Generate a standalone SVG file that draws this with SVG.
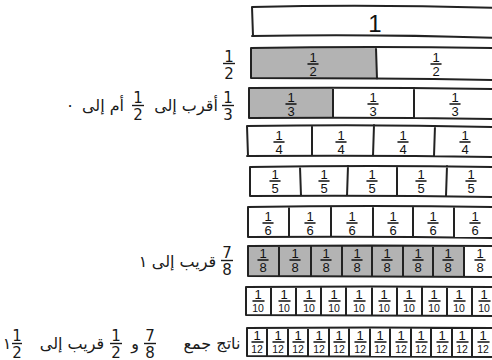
<svg xmlns="http://www.w3.org/2000/svg" width="492" height="360" viewBox="0 0 492 360">
<style>
.ln{fill:none;stroke:#222;stroke-width:2;stroke-linecap:round;stroke-linejoin:round}
.sh{fill:#b3b3b3;stroke:none}
.n{font-family:"Liberation Sans",sans-serif;font-size:13px;text-anchor:middle;fill:#111}
.s{font-size:10.5px}
.fb{stroke:#111;stroke-width:1.5;stroke-linecap:round}
.ar{font-family:"DejaVu Sans",sans-serif;font-size:16px;fill:#1a1a1a;text-anchor:middle}
.fr{font-family:"DejaVu Sans",sans-serif;font-size:15px;fill:#1a1a1a;text-anchor:middle}
.fb2{stroke:#1a1a1a;stroke-width:1.4}
</style>
<rect width="492" height="360" fill="#fff"/>

<g id="row1">
<path class="ln" d="M252,7 Q370,4 497,8 M252,36 Q380,34 497,38 M252,7 L253,36"/>
<text class="n" x="375" y="32" style="font-size:24px">1</text>
</g>

<g id="row2">
<rect class="sh" x="251" y="48" width="125" height="30"/>
<path class="ln" d="M251,48 Q370,46 497,48 M251,78 Q380,78 497,80 M251,48 L251,78 M376,48 L377,79"/>
<text class="n" x="313" y="62">1</text><line class="fb" x1="308" y1="64" x2="318" y2="64"/><text class="n" x="313" y="76">2</text>
<text class="n" x="436" y="62">1</text><line class="fb" x1="431" y1="64" x2="441" y2="64"/><text class="n" x="436" y="76">2</text>
</g>

<g id="row3">
<rect class="sh" x="249" y="88" width="84" height="30"/>
<path class="ln" d="M249,88 Q370,87 497,89 M249,118 Q380,117 497,119 M249,88 L249,118 M333,88 L333,118 M414,88 L414,118"/>
<text class="n" x="291" y="102">1</text><line class="fb" x1="286" y1="104" x2="296" y2="104"/><text class="n" x="291" y="116">3</text>
<text class="n" x="373" y="102">1</text><line class="fb" x1="368" y1="104" x2="378" y2="104"/><text class="n" x="373" y="116">3</text>
<text class="n" x="455" y="102">1</text><line class="fb" x1="450" y1="104" x2="460" y2="104"/><text class="n" x="455" y="116">3</text>
</g>

<g id="row4">
<path class="ln" d="M247,126 Q370,124 497,127 M247,156 Q380,155 497,157 M247,126 L248,156 M312,126 L312,156 M374,125 L373,156 M435,126 L434,156"/>
<text class="n" x="279" y="140">1</text><line class="fb" x1="274" y1="142" x2="284" y2="142"/><text class="n" x="279" y="154">4</text>
<text class="n" x="341" y="140">1</text><line class="fb" x1="336" y1="142" x2="346" y2="142"/><text class="n" x="341" y="154">4</text>
<text class="n" x="403" y="140">1</text><line class="fb" x1="398" y1="142" x2="408" y2="142"/><text class="n" x="403" y="154">4</text>
<text class="n" x="465" y="140">1</text><line class="fb" x1="460" y1="142" x2="470" y2="142"/><text class="n" x="465" y="154">4</text>
</g>

<g id="row5">
<path class="ln" d="M250,167 Q370,165 497,167 M250,196 Q380,195 497,197 M250,167 L250,196 M300,167 L301,196 M348,166 L347,196 M397,167 L397,196 M447,166 L446,196"/>
<text class="n" x="275" y="179">1</text><line class="fb" x1="270" y1="181" x2="280" y2="181"/><text class="n" x="275" y="193">5</text>
<text class="n" x="324" y="179">1</text><line class="fb" x1="319" y1="181" x2="329" y2="181"/><text class="n" x="324" y="193">5</text>
<text class="n" x="372" y="179">1</text><line class="fb" x1="367" y1="181" x2="377" y2="181"/><text class="n" x="372" y="193">5</text>
<text class="n" x="421" y="179">1</text><line class="fb" x1="416" y1="181" x2="426" y2="181"/><text class="n" x="421" y="193">5</text>
<text class="n" x="471" y="179">1</text><line class="fb" x1="466" y1="181" x2="476" y2="181"/><text class="n" x="471" y="193">5</text>
</g>

<g id="row6">
<path class="ln" d="M248,207 Q370,205 497,207 M248,237 Q380,236 497,238 M248,207 L248,237 M289,207 L289,237 M331,207 L331,237 M373,206 L373,237 M413,207 L413,237 M454,207 L454,237"/>
<text class="n" x="268" y="221">1</text><line class="fb" x1="263" y1="223" x2="273" y2="223"/><text class="n" x="268" y="235">6</text>
<text class="n" x="310" y="221">1</text><line class="fb" x1="305" y1="223" x2="315" y2="223"/><text class="n" x="310" y="235">6</text>
<text class="n" x="352" y="221">1</text><line class="fb" x1="347" y1="223" x2="357" y2="223"/><text class="n" x="352" y="235">6</text>
<text class="n" x="393" y="221">1</text><line class="fb" x1="388" y1="223" x2="398" y2="223"/><text class="n" x="393" y="235">6</text>
<text class="n" x="433" y="221">1</text><line class="fb" x1="428" y1="223" x2="438" y2="223"/><text class="n" x="433" y="235">6</text>
<text class="n" x="475" y="221">1</text><line class="fb" x1="470" y1="223" x2="480" y2="223"/><text class="n" x="475" y="235">6</text>
</g>

<g id="row7">
<rect class="sh" x="248" y="246" width="216" height="30"/>
<path class="ln" d="M248,246 Q370,245 497,246 M248,276 Q380,276 497,277 M248,246 L248,276 M279,246 L279,276 M311,246 L311,276 M342,246 L342,276 M372,246 L372,276 M403,246 L403,276 M433,246 L433,276 M464,246 L464,276"/>
<text class="n" x="263" y="258">1</text><line class="fb" x1="258" y1="260" x2="268" y2="260"/><text class="n" x="263" y="272">8</text>
<text class="n" x="295" y="258">1</text><line class="fb" x1="290" y1="260" x2="300" y2="260"/><text class="n" x="295" y="272">8</text>
<text class="n" x="326" y="258">1</text><line class="fb" x1="321" y1="260" x2="331" y2="260"/><text class="n" x="326" y="272">8</text>
<text class="n" x="357" y="258">1</text><line class="fb" x1="352" y1="260" x2="362" y2="260"/><text class="n" x="357" y="272">8</text>
<text class="n" x="387" y="258">1</text><line class="fb" x1="382" y1="260" x2="392" y2="260"/><text class="n" x="387" y="272">8</text>
<text class="n" x="418" y="258">1</text><line class="fb" x1="413" y1="260" x2="423" y2="260"/><text class="n" x="418" y="272">8</text>
<text class="n" x="448" y="258">1</text><line class="fb" x1="443" y1="260" x2="453" y2="260"/><text class="n" x="448" y="272">8</text>
<text class="n" x="480" y="258">1</text><line class="fb" x1="475" y1="260" x2="485" y2="260"/><text class="n" x="480" y="272">8</text>
</g>

<g id="row8">
<path class="ln" d="M246,287 Q370,286 497,287 M246,315 Q380,315 497,316 M246,287 L246,315 M271,287 L271,315 M296,287 L296,315 M321,287 L321,315 M346,287 L346,315 M372,287 L372,315 M397,287 L397,315 M422,287 L422,315 M447,287 L447,315 M472,287 L472,315"/>
<text class="n" x="258" y="299">1</text><line class="fb" x1="253" y1="301" x2="264" y2="301"/><text class="n s" x="258" y="312">10</text>
<text class="n" x="284" y="299">1</text><line class="fb" x1="279" y1="301" x2="290" y2="301"/><text class="n s" x="284" y="312">10</text>
<text class="n" x="309" y="299">1</text><line class="fb" x1="304" y1="301" x2="315" y2="301"/><text class="n s" x="309" y="312">10</text>
<text class="n" x="334" y="299">1</text><line class="fb" x1="329" y1="301" x2="340" y2="301"/><text class="n s" x="334" y="312">10</text>
<text class="n" x="359" y="299">1</text><line class="fb" x1="354" y1="301" x2="365" y2="301"/><text class="n s" x="359" y="312">10</text>
<text class="n" x="384" y="299">1</text><line class="fb" x1="379" y1="301" x2="390" y2="301"/><text class="n s" x="384" y="312">10</text>
<text class="n" x="409" y="299">1</text><line class="fb" x1="404" y1="301" x2="415" y2="301"/><text class="n s" x="409" y="312">10</text>
<text class="n" x="434" y="299">1</text><line class="fb" x1="429" y1="301" x2="440" y2="301"/><text class="n s" x="434" y="312">10</text>
<text class="n" x="459" y="299">1</text><line class="fb" x1="454" y1="301" x2="465" y2="301"/><text class="n s" x="459" y="312">10</text>
<text class="n" x="484" y="299">1</text><line class="fb" x1="479" y1="301" x2="490" y2="301"/><text class="n s" x="484" y="312">10</text>
</g>

<g id="row9">
<path class="ln" d="M247,328 Q370,327 497,328 M247,356 Q380,356 497,357 M247,328 L247,356 M267,328 L267,356 M288,328 L288,356 M308,328 L308,356 M329,328 L329,356 M349,328 L349,356 M370,328 L370,356 M390,328 L390,356 M411,328 L411,356 M431,328 L431,356 M452,328 L452,356 M472,328 L472,356"/>
<text class="n" x="257" y="340">1</text><line class="fb" x1="252" y1="342" x2="263" y2="342"/><text class="n s" x="257" y="353">12</text>
<text class="n" x="278" y="340">1</text><line class="fb" x1="273" y1="342" x2="284" y2="342"/><text class="n s" x="278" y="353">12</text>
<text class="n" x="298" y="340">1</text><line class="fb" x1="293" y1="342" x2="304" y2="342"/><text class="n s" x="298" y="353">12</text>
<text class="n" x="319" y="340">1</text><line class="fb" x1="314" y1="342" x2="325" y2="342"/><text class="n s" x="319" y="353">12</text>
<text class="n" x="339" y="340">1</text><line class="fb" x1="334" y1="342" x2="345" y2="342"/><text class="n s" x="339" y="353">12</text>
<text class="n" x="360" y="340">1</text><line class="fb" x1="355" y1="342" x2="366" y2="342"/><text class="n s" x="360" y="353">12</text>
<text class="n" x="380" y="340">1</text><line class="fb" x1="375" y1="342" x2="386" y2="342"/><text class="n s" x="380" y="353">12</text>
<text class="n" x="401" y="340">1</text><line class="fb" x1="396" y1="342" x2="407" y2="342"/><text class="n s" x="401" y="353">12</text>
<text class="n" x="421" y="340">1</text><line class="fb" x1="416" y1="342" x2="427" y2="342"/><text class="n s" x="421" y="353">12</text>
<text class="n" x="442" y="340">1</text><line class="fb" x1="437" y1="342" x2="448" y2="342"/><text class="n s" x="442" y="353">12</text>
<text class="n" x="462" y="340">1</text><line class="fb" x1="457" y1="342" x2="468" y2="342"/><text class="n s" x="462" y="353">12</text>
<text class="n" x="483" y="340">1</text><line class="fb" x1="478" y1="342" x2="489" y2="342"/><text class="n s" x="483" y="353">12</text>
</g>

<g id="label-half">
<text class="fr" x="229" y="61.5">1</text><line class="fb2" x1="223" y1="63.5" x2="235" y2="63.5"/><text class="fr" x="229" y="78.5">2</text>
</g>

<g id="label-third">
<text class="fr" x="228" y="103">1</text><line class="fb2" x1="222" y1="105.5" x2="234" y2="105.5"/><text class="fr" x="228" y="120">3</text>
<text class="ar" x="186" y="111">أقرب إلى</text>
<text class="fr" x="138" y="103">1</text><line class="fb2" x1="132" y1="105.5" x2="144" y2="105.5"/><text class="fr" x="138" y="120">2</text>
<text class="ar" x="103" y="111">أم إلى</text>
<text class="ar" x="70" y="111">٠</text>
</g>

<g id="label-eighth">
<text class="fr" x="227" y="258">7</text><line class="fb2" x1="221" y1="260.5" x2="233" y2="260.5"/><text class="fr" x="227" y="275">8</text>
<text class="ar" x="184" y="267">قريب إلى</text>
<text class="ar" x="143" y="267">١</text>
</g>

<g id="label-twelfth">
<text class="ar" x="212" y="349">ناتج جمع</text>
<text class="fr" x="150" y="340.5">7</text><line class="fb2" x1="144" y1="343.5" x2="156" y2="343.5"/><text class="fr" x="150" y="357.5">8</text>
<text class="ar" x="135" y="349">و</text>
<text class="fr" x="116" y="340.5">1</text><line class="fb2" x1="110" y1="343.5" x2="122" y2="343.5"/><text class="fr" x="116" y="357.5">2</text>
<text class="ar" x="72" y="349">قريب إلى</text>
<text class="ar" x="7" y="349">١</text>
<text class="fr" x="17" y="340.5">1</text><line class="fb2" x1="12" y1="343.5" x2="22" y2="343.5"/><text class="fr" x="17" y="357.5">2</text>
</g>
</svg>
